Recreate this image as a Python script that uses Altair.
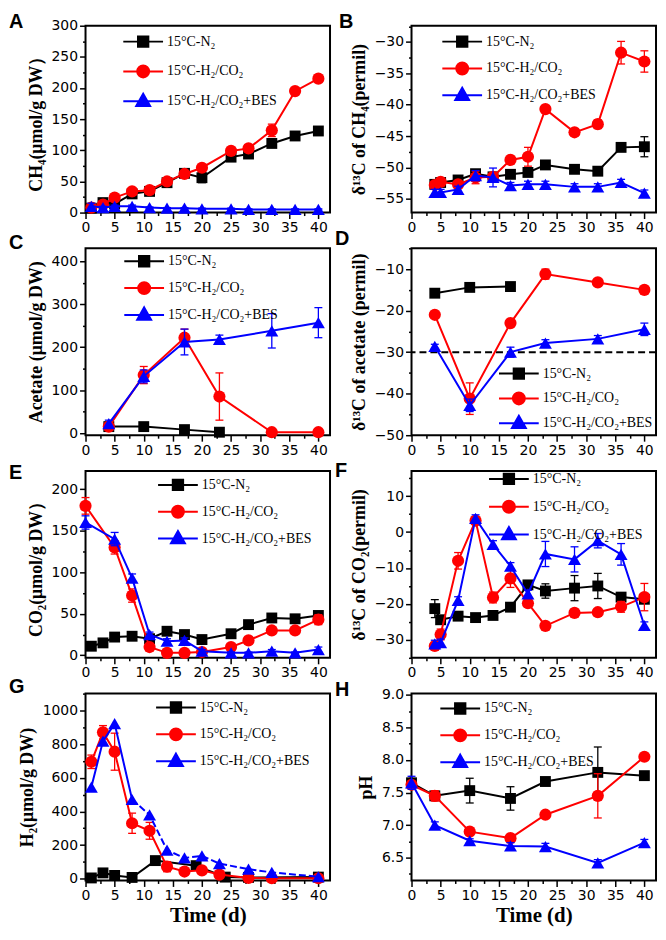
import altair as alt
import pandas as pd

SERIES = ["15°C-N₂", "15°C-H₂/CO₂", "15°C-H₂/CO₂+BES"]
COLORS = ["#000000", "#ff0000", "#0000ff"]
SHAPES = ["square", "circle", "triangle-up"]
SIZES = [120, 150, 170]
LEG_PATHS = [
    "M-1,0H1M-0.26,-0.26H0.26V0.26H-0.26Z",
    "M-1,0H1M-0.3,0A0.3,0.3,0,1,0,0.3,0A0.3,0.3,0,1,0,-0.3,0Z",
    "M-1,0H1M0,-0.38L0.35,0.24H-0.35Z",
]

X_TICKS = [0, 2.5, 5, 7.5, 10, 12.5, 15, 17.5, 20, 22.5, 25, 27.5, 30, 32.5, 35, 37.5, 40]

# ---- Panel A: CH4
A_X = [1, 3, 5, 8, 11, 14, 17, 20, 25, 28, 32, 36, 40]
A_N2 = [7, 16, 14, 30, 34, 48, 63, 56, 89, 94, 111, 123, 131]
A_N2_ERR = [2, 3, 2, 3, 3, 3, 3, 8, 3, 3, 5, 3, 4]
A_H2 = [8, 13, 24, 34, 36, 50, 62, 72, 99, 103, 132, 195, 215]
A_H2_ERR = [6, 4, 3, 3, 3, 3, 3, 3, 3, 3, 10, 4, 3]
A_BES = [10, 8, 10, 10, 8, 7, 7, 6, 6, 5, 5, 5, 5]
A_BES_ERR = [5, 2, 2, 2, 1, 1, 1, 1, 1, 1, 1, 1, 1]
A_YTICKS = [0, 25, 50, 75, 100, 125, 150, 175, 200, 225, 250, 275, 300]

# ---- Panel B: d13C CH4
B_X = [4, 5, 8, 11, 14, 17, 20, 23, 28, 32, 36, 40]
B_N2 = [-52.7, -52.4, -52.0, -51.0, -51.5, -51.1, -50.8, -49.6, -50.3, -50.6, -46.8, -46.7]
B_N2_ERR = [0.3, 0.3, 0.3, 0.5, 0.5, 0.3, 0.5, 0.3, 0.3, 0.3, 0.3, 1.6]
B_H2 = [-52.8, -52.3, -52.7, -51.6, -51.5, -48.8, -48.3, -40.7, -44.4, -43.1, -31.7, -33.1]
B_H2_ERR = [0.5, 0.5, 0.3, 1.0, 0.5, 0.3, 1.5, 0.3, 0.3, 0.7, 1.8, 1.7]
B_BES = [-54.0, -54.0, -53.5, -51.3, -51.6, -52.9, -52.7, -52.7, -53.1, -53.1, -52.4, -54.1]
B_BES_ERR = [0.5, 0.5, 0.5, 0.8, 1.5, 0.5, 0.5, 0.5, 0.5, 0.5, 0.5, 0.5]
B_YTICKS = [-55, -52.5, -50, -47.5, -45, -42.5, -40, -37.5, -35, -32.5, -30, -27.5]

# ---- Panel C: acetate
C_X_N2 = [4, 10, 17, 23]
C_X = [4, 10, 17, 23, 32, 40]
C_N2 = [15, 15, 8, 2]
C_N2_ERR = [3, 3, 3, 2]
C_H2 = [15, 135, 222, 85, 2, 2]
C_H2_ERR = [5, 20, 20, 55, 2, 2]
C_BES = [22, 132, 212, 218, 238, 257]
C_BES_ERR = [8, 15, 30, 10, 40, 35]
C_YTICKS = [0, 50, 100, 150, 200, 250, 300, 350, 400]

# ---- Panel D: d13C acetate
D_X_N2 = [4, 10, 17]
D_X = [4, 10, 17, 23, 32, 40]
D_N2 = [-15.8, -14.4, -14.2]
D_N2_ERR = [0.5, 0.5, 0.5]
D_H2 = [-21.0, -41.2, -23.0, -11.2, -13.2, -15.0]
D_H2_ERR = [0.3, 3.8, 0.5, 1.2, 0.5, 0.5]
D_BES = [-28.6, -42.8, -30.0, -27.8, -26.8, -24.5]
D_BES_ERR = [0.5, 1.5, 1.2, 0.8, 0.8, 1.5]
D_REF = [-30]
D_YTICKS = [-50, -45, -40, -35, -30, -25, -20, -15, -10, -5]

# ---- Panel E: CO2
E_X_N2 = [1, 3, 5, 8, 11, 14, 17, 20, 25, 28, 32, 36, 40]
E_X = [0, 5, 8, 11, 14, 17, 20, 25, 28, 32, 36, 40]
E_N2 = [11, 15, 22, 23, 20, 29, 25, 19, 26, 37, 45, 44, 48]
E_N2_ERR = [3, 3, 3, 3, 3, 3, 3, 3, 3, 3, 3, 3, 4]
E_H2 = [180, 130, 72, 10, 3, 3, 4, 10, 18, 30, 30, 43]
E_H2_ERR = [10, 8, 8, 3, 1, 1, 1, 2, 2, 3, 3, 6]
E_BES = [160, 140, 93, 25, 17, 18, 5, 3, 3, 5, 3, 7]
E_BES_ERR = [8, 8, 5, 3, 3, 3, 2, 1, 1, 2, 1, 3]
E_YTICKS = [0, 25, 50, 75, 100, 125, 150, 175, 200]

# ---- Panel F: d13C CO2
F_X = [4, 5, 8, 11, 14, 17, 20, 23, 28, 32, 36, 40]
F_N2 = [-21.3, -24.4, -23.4, -23.8, -23.2, -20.9, -14.7, -16.4, -15.6, -15.0, -18.1, -18.7]
F_N2_ERR = [2.5, 1, 1, 1, 1, 1, 1, 2, 3.5, 3.5, 1, 1]
F_H2 = [-31.7, -28.5, -8.0, 3.2, -18.2, -12.9, -19.8, -26.1, -22.5, -22.3, -20.8, -18.1]
F_H2_ERR = [1, 1.5, 2.3, 1, 1.5, 2.5, 1, 0.8, 1, 1, 1.5, 3.8]
F_BES = [-31.1, -30.8, -19.0, 3.8, -3.4, -9.5, -17.2, -6.1, -7.6, -2.4, -6.2, -26.0]
F_BES_ERR = [1, 1, 1, 1, 1, 1, 1, 3.5, 3.5, 2, 3, 1]
F_YTICKS = [-35, -30, -25, -20, -15, -10, -5, 0, 5, 10, 15]

# ---- Panel G: H2
G_X_N2 = [1, 3, 5, 8, 12, 19, 24, 28, 40]
G_N2 = [5, 35, 20, 8, 108, 78, 10, 8, 10]
G_N2_ERR = [0, 5, 5, 0, 10, 10, 0, 0, 0]
G_X = [1, 3, 5, 8, 11, 14, 17, 20, 23, 28, 32, 40]
G_H2 = [695, 870, 755, 330, 285, 72, 43, 50, 25, 5, 3, 3]
G_H2_ERR = [40, 40, 110, 60, 50, 30, 10, 10, 8, 2, 2, 2]
G_BES = [545, 818, 922, 471, 380, 170, 124, 136, 90, 57, 38, 12]
G_BES_ERR = [0, 0, 0, 0, 0, 0, 0, 0, 0, 0, 0, 0]
G_BES_DASH_FROM = 8
G_YTICKS = [0, 100, 200, 300, 400, 500, 600, 700, 800, 900, 1000, 1100]

# ---- Panel H: pH
H_X = [0, 4, 10, 17, 23, 32, 40]
H_N2 = [7.65, 7.45, 7.53, 7.41, 7.67, 7.81, 7.76]
H_N2_ERR = [0.05, 0.05, 0.19, 0.18, 0.03, 0.39, 0.03]
H_H2 = [7.62, 7.45, 6.90, 6.80, 7.16, 7.45, 8.05]
H_H2_ERR = [0.05, 0.08, 0.03, 0.03, 0.03, 0.34, 0.03]
H_BES = [7.65, 7.00, 6.76, 6.68, 6.67, 6.42, 6.73]
H_BES_ERR = [0.1, 0.05, 0.03, 0.05, 0.05, 0.05, 0.05]
H_YTICKS = [6.25, 6.5, 6.75, 7.0, 7.25, 7.5, 7.75, 8.0, 8.25, 8.5, 8.75, 9.0]

W, H = 246, 188
SERIF = "Liberation Serif"
SANS = "DejaVu Sans"


def major_test(step):
    return f"abs(datum.value/{step} - round(datum.value/{step})) < 0.001"


def panel(letter, letter_dx, letter_dy, xs, ys, errs, ydom, yticks, ystep, ytitle,
          leg_x, leg_y, leg_rp, xtitle=None, yfmt=None, dash_from=None, ref=None):
    xscale = alt.Scale(domain=[0, 42], nice=False, zero=False)
    yscale = alt.Scale(domain=ydom, nice=False, zero=False)
    xt = major_test(5)
    yt = major_test(ystep)
    xaxis = alt.Axis(values=X_TICKS, labelExpr=f"{xt} ? datum.label : ''",
                     tickSize={"condition": {"test": xt, "value": 6}, "value": 3},
                     title=xtitle, titleFontSize=21, titlePadding=2)
    yargs = dict(values=yticks, labelExpr=f"{yt} ? datum.label : ''",
                 tickSize={"condition": {"test": yt, "value": 6}, "value": 3},
                 title=ytitle, titlePadding=6)
    if yfmt:
        yargs["format"] = yfmt
    yaxis = alt.Axis(**yargs)

    def X(f="x"):
        return alt.X(f"{f}:Q", scale=xscale, axis=xaxis)

    def Y(f="y"):
        return alt.Y(f"{f}:Q", scale=yscale, axis=yaxis)

    layers = []
    if ref is not None:
        rdf = pd.DataFrame({"y": ref})
        layers.append(alt.Chart(rdf).mark_rule(color="black", strokeWidth=2,
                                               strokeDash=[7, 4]).encode(y=Y()))
    for i in range(3):
        df = pd.DataFrame({"x": xs[i], "y": ys[i], "e": errs[i]})
        df["lo"] = df["y"] - df["e"]
        df["hi"] = df["y"] + df["e"]
        base = alt.Chart(df)
        col = COLORS[i]
        if dash_from is not None and i == 2:
            layers.append(base.transform_filter(f"datum.x <= {dash_from}")
                          .mark_line(color=col, strokeWidth=2).encode(x=X(), y=Y()))
            layers.append(base.transform_filter(f"datum.x >= {dash_from}")
                          .mark_line(color=col, strokeWidth=2, strokeDash=[7, 3])
                          .encode(x=X(), y=Y()))
        else:
            layers.append(base.mark_line(color=col, strokeWidth=2).encode(x=X(), y=Y()))
        eb = base.transform_filter("datum.e > 0")
        layers.append(eb.mark_rule(color=col, strokeWidth=1.3)
                      .encode(x=X(), y=Y("lo"), y2="hi:Q"))
        for f in ("lo", "hi"):
            layers.append(eb.mark_point(shape="stroke", size=64, color=col,
                                        strokeWidth=1.3, opacity=1)
                          .encode(x=X(), y=Y(f)))
        layers.append(base.mark_point(filled=True, shape=SHAPES[i], size=SIZES[i],
                                      color=col, opacity=1).encode(x=X(), y=Y()))

    leg = alt.Legend(orient="none", legendX=leg_x, legendY=leg_y, title=None,
                     symbolSize=1600, symbolStrokeWidth=2, symbolOpacity=1,
                     labelFont=SERIF, labelFontSize=14, labelColor="black",
                     labelOffset=3, clipHeight=20, rowPadding=leg_rp, padding=0,
                     labelLimit=300)
    ldf = pd.DataFrame({"s": SERIES})
    dummy = (alt.Chart(ldf).transform_filter("false")
             .mark_point(filled=True, strokeWidth=2, opacity=1)
             .encode(shape=alt.Shape("s:N", scale=alt.Scale(domain=SERIES, range=LEG_PATHS), legend=leg),
                     fill=alt.Fill("s:N", scale=alt.Scale(domain=SERIES, range=COLORS), legend=leg),
                     stroke=alt.Stroke("s:N", scale=alt.Scale(domain=SERIES, range=COLORS), legend=leg)))
    layers.append(dummy)
    return alt.layer(*layers).properties(
        width=W, height=H,
        title=alt.TitleParams(letter, anchor="start", frame="group", dx=letter_dx,
                              dy=letter_dy, offset=0, fontSize=20, font="Liberation Sans",
                              fontWeight="bold", color="black"))


pA = panel("A", -77, 13, [A_X, A_X, A_X], [A_N2, A_H2, A_BES], [A_N2_ERR, A_H2_ERR, A_BES_ERR],
           [0, 300], A_YTICKS, 50, "CH₄(μmol/g DW）", 37, 6, 10)
pB = panel("B", -73, 13, [B_X, B_X, B_X], [B_N2, B_H2, B_BES], [B_N2_ERR, B_H2_ERR, B_BES_ERR],
           [-57.2, -27.4], B_YTICKS, 5, "δ¹³C of CH₄(permil)", 30, 6, 7)
pC = panel("C", -77, 5, [C_X_N2, C_X, C_X], [C_N2, C_H2, C_BES], [C_N2_ERR, C_H2_ERR, C_BES_ERR],
           [-5, 430], C_YTICKS, 100, "Acetate (μmol/g DW)", 38, 3, 7)
pD = panel("D", -77, 8, [D_X_N2, D_X, D_X], [D_N2, D_H2, D_BES], [D_N2_ERR, D_H2_ERR, D_BES_ERR],
           [-50, -5], D_YTICKS, 10, "δ¹³C of acetate (permil)", 87, 116, 5, ref=D_REF)
pE = panel("E", -77, 12, [E_X_N2, E_X, E_X], [E_N2, E_H2, E_BES], [E_N2_ERR, E_H2_ERR, E_BES_ERR],
           [-3, 222], E_YTICKS, 50, "CO₂(μmol/g DW）", 72, 4, 7)
pF = panel("F", -77, 12, [F_X, F_X, F_X], [F_N2, F_H2, F_BES], [F_N2_ERR, F_H2_ERR, F_BES_ERR],
           [-35, 17], F_YTICKS, 10, "δ¹³C of CO₂(permil)", 77, -2, 8)
pG = panel("G", -77, 10, [G_X_N2, G_X, G_X], [G_N2, G_H2, G_BES], [G_N2_ERR, G_H2_ERR, G_BES_ERR],
           [-10, 1100], G_YTICKS, 200, "H₂(μmol/g DW)", 70, 4, 7, xtitle="Time (d)",
           yfmt="d", dash_from=G_BES_DASH_FROM)
pH = panel("H", -77, 12, [H_X, H_X, H_X], [H_N2, H_H2, H_BES], [H_N2_ERR, H_H2_ERR, H_BES_ERR],
           [6.15, 9.02], H_YTICKS, 0.5, "pH", 28, 5, 7, xtitle="Time (d)", yfmt=".1f")

chart = (alt.concat(pA, pB, pC, pD, pE, pF, pG, pH, columns=2,
                    spacing={"row": 36, "column": 82}, bounds="flush")
         .resolve_scale(shape="independent", fill="independent", stroke="independent")
         .resolve_legend(shape="independent", fill="independent", stroke="independent")
         .properties(padding={"left": 0, "top": 0, "right": 0, "bottom": 0})
         .configure_view(stroke="black", strokeWidth=2)
         .configure_axis(domain=False, grid=False, labelFont=SANS, labelFontSize=14,
                         labelColor="black", tickColor="black", tickWidth=1.5,
                         titleFont=SERIF, titleFontWeight="bold", titleFontSize=18,
                         titleColor="black", labelFlush=False, labelOverlap=False,
                         labelPadding=2))

chart.save("out.html", embed_options={"renderer": "svg", "actions": False})
